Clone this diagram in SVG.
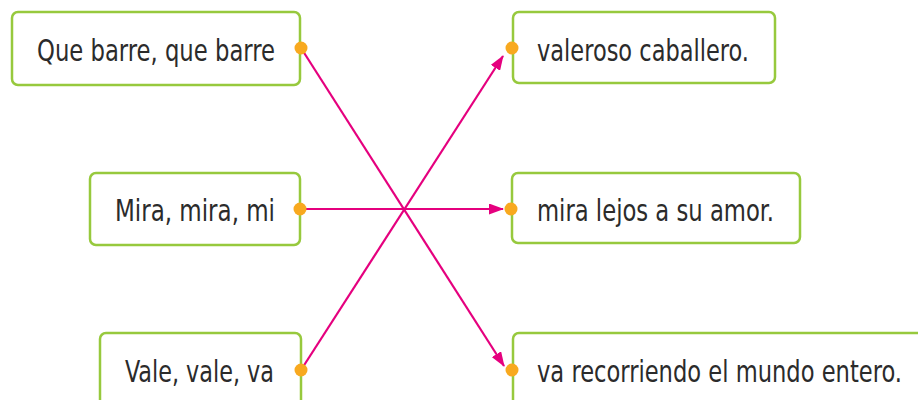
<svg xmlns="http://www.w3.org/2000/svg" width="918" height="400" viewBox="0 0 918 400">
<style>
.box{fill:#fff;stroke:#97c93d;stroke-width:2.5}
.t{font-family:"DejaVu Sans Condensed","Liberation Sans",sans-serif;font-size:30.5px;fill:#2b2b2b}
.dot{fill:#f8a91f}
.c{stroke:#e5007e;stroke-width:2.2;fill:none;marker-end:url(#ah)}
</style>
<defs>
<marker id="ah" viewBox="0 0 15 11" refX="14" refY="5.5" markerWidth="15" markerHeight="11" markerUnits="userSpaceOnUse" orient="auto">
<path d="M0,0 L15,5.5 L0,11 Z" fill="#e5007e"/>
</marker>
</defs>
<g id="n1"><rect class="box" x="12" y="12" width="288" height="73" rx="6"/><text class="t" x="37" y="61" textLength="238" lengthAdjust="spacingAndGlyphs">Que barre, que barre</text></g>
<g id="n2"><rect class="box" x="90" y="173" width="210" height="72" rx="6"/><text class="t" x="115" y="221" textLength="160" lengthAdjust="spacingAndGlyphs">Mira, mira, mi</text></g>
<g id="n3"><rect class="box" x="100" y="333" width="201" height="80" rx="6"/><text class="t" x="125" y="382" textLength="149" lengthAdjust="spacingAndGlyphs">Vale, vale, va</text></g>
<g id="n4"><rect class="box" x="513" y="12" width="262" height="71" rx="6"/><text class="t" x="537" y="61" textLength="212" lengthAdjust="spacingAndGlyphs">valeroso caballero.</text></g>
<g id="n5"><rect class="box" x="512" y="173" width="288" height="70" rx="6"/><text class="t" x="537" y="221" textLength="237" lengthAdjust="spacingAndGlyphs">mira lejos a su amor.</text></g>
<g id="n6"><rect class="box" x="513" y="333" width="420" height="80" rx="6"/><text class="t" x="537" y="382" textLength="365" lengthAdjust="spacingAndGlyphs">va recorriendo el mundo entero.</text></g>
<g id="connectors">
<line class="c" x1="301" y1="48" x2="504" y2="366"/>
<line class="c" x1="301" y1="209" x2="503" y2="209"/>
<line class="c" x1="301" y1="370" x2="503" y2="56"/>
</g>
<g id="dots">
<circle class="dot" cx="301" cy="48" r="6.5"/>
<circle class="dot" cx="512" cy="48" r="6.5"/>
<circle class="dot" cx="300" cy="209" r="6.5"/>
<circle class="dot" cx="511" cy="209" r="6.5"/>
<circle class="dot" cx="301" cy="370" r="6.5"/>
<circle class="dot" cx="512" cy="370" r="6.5"/>
</g>
</svg>
